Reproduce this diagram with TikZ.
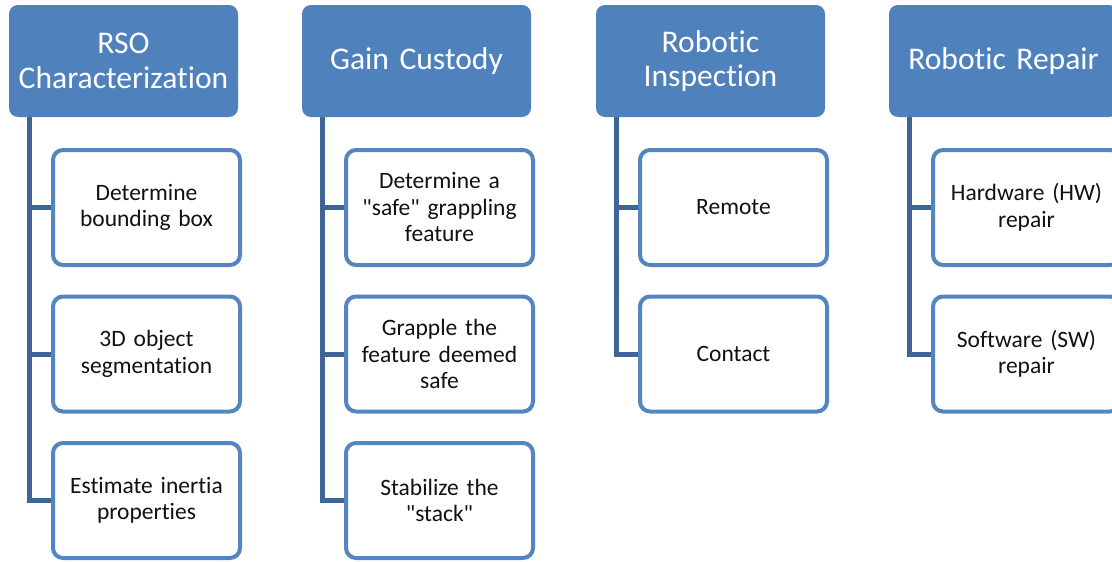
\documentclass[tikz,border=0pt]{standalone}
\usepackage{fontspec}
\setmainfont{Carlito}[Ligatures={TeXOff,CommonOff}]
\usetikzlibrary{backgrounds}

\definecolor{headblue}{HTML}{4F81BD}
\definecolor{linkblue}{HTML}{3F6496}
\definecolor{edgeblue}{HTML}{5585C0}
\definecolor{inktext}{HTML}{111111}

\tikzset{
  head/.style={fill=headblue, rounded corners=9pt, minimum width=229pt,
    minimum height=112pt, inner sep=0pt, text width=225pt, align=center,
    text=white, font=\fontsize{31.6}{34.5}\selectfont},
  leaf/.style={draw=edgeblue, line width=4pt, fill=white, rounded corners=10pt,
    minimum width=187pt, minimum height=115pt, inner sep=0pt, text width=180pt,
    align=center, text=inktext, font=\fontsize{23.5}{26.5}\selectfont},
  link/.style={draw=linkblue, line width=5pt, line join=miter}
}

\begin{document}
\begin{tikzpicture}[x=1pt, y=-1pt]
  \useasboundingbox (0,0) rectangle (1112,562);
  \clip (0,0) rectangle (1112,562);

  % column headers
  \node[head] (h1) at (123.5,61) {RSO\\Characterization};
  \node[head] (h2) at (416.5,61) {Gain Custody};
  \node[head] (h3) at (710.5,61) {Robotic\\Inspection};
  \node[head] (h4) at (1003.5,61) {Robotic Repair};

  % tasks under each header
  \node[leaf] (a1) at (146.5,207.5) {Determine\\bounding box};
  \node[leaf] (a2) at (146.5,354) {3D object\\segmentation};
  \node[leaf] (a3) at (146.5,500.5) {Estimate inertia\\properties};

  \node[leaf] (b1) at (439.5,207.5) {Determine a\\"safe" grappling\\feature};
  \node[leaf] (b2) at (439.5,354) {Grapple the\\feature deemed\\safe};
  \node[leaf] (b3) at (439.5,500.5) {Stabilize the\\"stack"};

  \node[leaf] (c1) at (733.5,207.5) {Remote};
  \node[leaf] (c2) at (733.5,354) {Contact};

  \node[leaf] (d1) at (1026.5,207.5) {Hardware (HW)\\repair};
  \node[leaf] (d2) at (1026.5,354) {Software (SW)\\repair};

  % trunk start points below each header
  \coordinate (t1) at ([xshift=21pt]h1.south west);
  \coordinate (t2) at ([xshift=21pt]h2.south west);
  \coordinate (t3) at ([xshift=21pt]h3.south west);
  \coordinate (t4) at ([xshift=21pt]h4.south west);

  \begin{scope}[on background layer]
    \fill[white] (0,0) rectangle (1112,562);
    \draw[link] (t1) |- (a3.west);
    \draw[link] (t1 |- a1.west) -- (a1.west);
    \draw[link] (t1 |- a2.west) -- (a2.west);

    \draw[link] (t2) |- (b3.west);
    \draw[link] (t2 |- b1.west) -- (b1.west);
    \draw[link] (t2 |- b2.west) -- (b2.west);

    \draw[link] (t3) |- (c2.west);
    \draw[link] (t3 |- c1.west) -- (c1.west);

    \draw[link] (t4) |- (d2.west);
    \draw[link] (t4 |- d1.west) -- (d1.west);
  \end{scope}
\end{tikzpicture}
\end{document}
